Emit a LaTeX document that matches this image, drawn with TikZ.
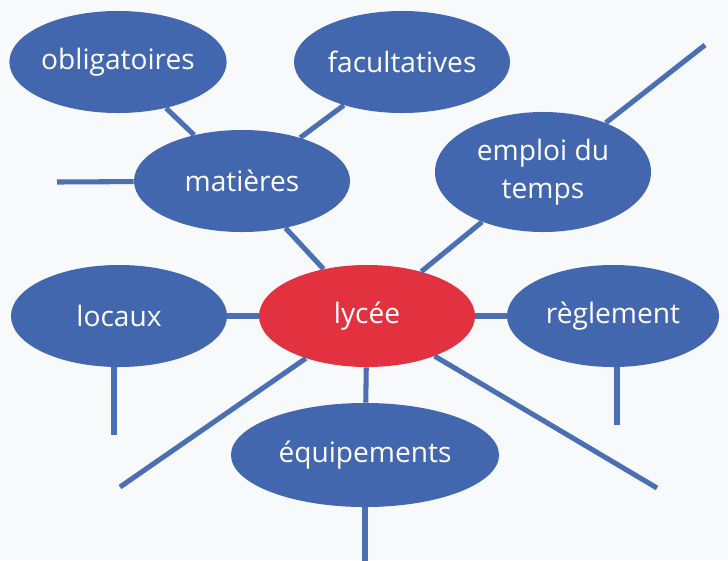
\documentclass[tikz,border=0pt]{standalone}
\usepackage{fontspec}
\setmainfont{Open Sans}
\usetikzlibrary{shapes.geometric, calc}
\definecolor{bulle}{HTML}{4267AE}
\definecolor{trait}{HTML}{4A6FB3}
\definecolor{centre}{HTML}{E2313F}
\definecolor{papier}{HTML}{F8F9FB}

\begin{document}
\begin{tikzpicture}[x=0.025cm, y=-0.025cm,
    bulle/.style={ellipse, fill=bulle, text=white, inner sep=0pt,
      minimum width=5.4cm, minimum height=2.55cm, align=center,
      font=\fontsize{20}{27}\selectfont},
    lien/.style={draw=trait, line width=3.6pt}]
    \fill[papier] (0,0) rectangle (728,560);
    \useasboundingbox (0,0) rectangle (728,560);

    \node[bulle] (oblig) at (118,62) {obligatoires};
    \node[bulle] (facult) at (402,62) {facultatives};
    \node[bulle] (matieres) at (242,181) {matières};
    \node[bulle, minimum height=3cm] (emploi) at (543,172) {emploi du\\temps};
    \node[bulle] (locaux) at (119,316) {locaux};
    \node[bulle, fill=centre] (lycee) at (367,316) {lycée};
    \node[bulle, minimum width=5.3cm] (reglement) at (613,316) {règlement};
    \node[bulle, minimum width=6.7cm, minimum height=2.6cm] (equip) at (365,455) {équipements};

    \coordinate (matg) at (57,182);
    \coordinate (emph) at (705,45);
    \coordinate (locb) at (114,435);
    \coordinate (regb) at (617,425);
    \coordinate (lycbg) at (120,487);
    \coordinate (lycbd) at (657,488);
    \coordinate (eqb) at (365,562);

    \draw[lien] (oblig) -- (matieres);
    \draw[lien] (facult) -- (matieres);
    \draw[lien] (matg) -- (matieres);
    \draw[lien] (matieres) -- (lycee);
    \draw[lien] (emploi) -- (emph);
    \draw[lien] (emploi) -- (lycee);
    \draw[lien] (locaux) -- (lycee);
    \draw[lien] (lycee) -- (reglement);
    \draw[lien] (locb |- locaux.south) -- (locb);
    \draw[lien] (regb |- reglement.south) -- (regb);
    \draw[lien] (lycee) -- (lycbg);
    \draw[lien] (lycee) -- (lycbd);
    \draw[lien] (lycee) -- (equip);
    \draw[lien] (equip) -- (eqb);
  \end{tikzpicture}
\end{document}
